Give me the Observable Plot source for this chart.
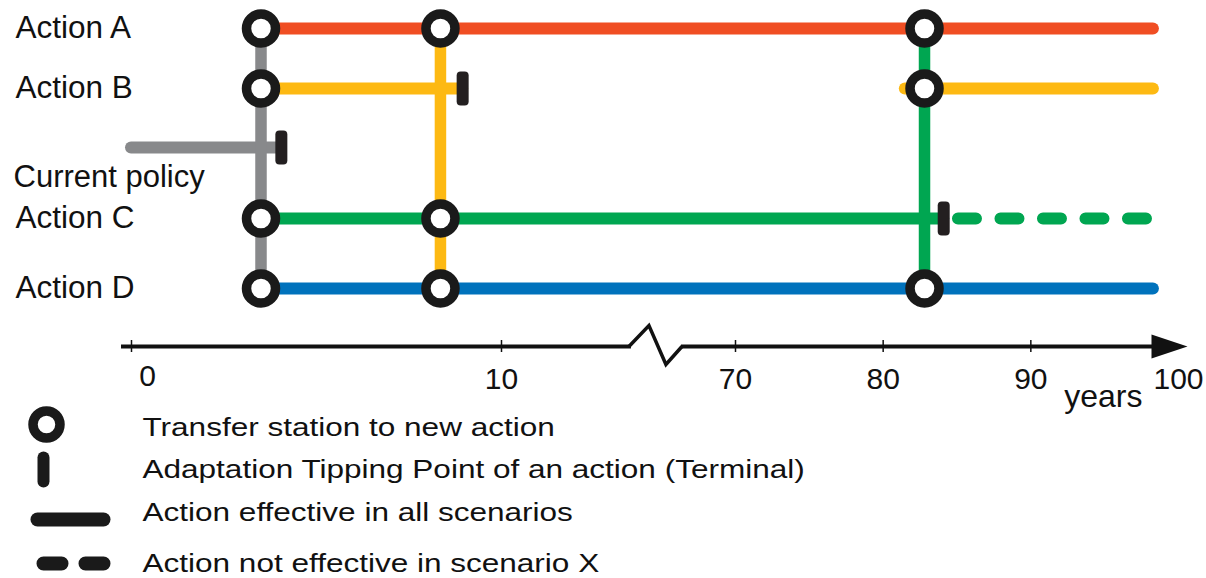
<!DOCTYPE html>
<html><head><meta charset="utf-8">
<script src="https://cdn.jsdelivr.net/npm/d3@7"></script>
<script src="https://cdn.jsdelivr.net/npm/@observablehq/plot@0.6"></script>
<style>
html,body{margin:0;padding:0;background:#fff;}
#chart svg{display:block;}
</style></head><body><div id="chart"></div>
<script>
// ---- data ----
const actions = ["Action A", "Action B", "Current policy", "Action C", "Action D"];
// horizontal route segments (years)
const segAction = ["Current policy", "Action A", "Action B", "Action B", "Action C", "Action C", "Action D"];
const segFrom   = [0,   3.5,  3.5,  81.5, 3.5,  85.1, 3.5];
const segTo     = [4.0, 98.3, 8.95, 98.3, 84.1, 97.85, 98.3];
const segDashed = [false, false, false, false, false, true, false];
// transfers (vertical connectors): year and the action whose colour they carry
const transferYear = [3.5, 8.35, 82.8];
const transferFrom = ["Current policy", "Action B", "Action C"];
// transfer stations
const stationYear   = [3.5, 3.5, 3.5, 3.5, 8.35, 8.35, 8.35, 82.8, 82.8, 82.8];
const stationAction = ["Action A", "Action B", "Action C", "Action D", "Action A", "Action C", "Action D", "Action A", "Action B", "Action D"];
// adaptation tipping points
const tipYear   = [4.05, 8.95, 84.1];
const tipAction = ["Current policy", "Action B", "Action C"];
// axis
const tickValues = [0, 10, 70, 80, 90];
const tickLabels = [10, 70, 80, 90, 100];
const zeroLabel = 0;
const axisBreak = 49.6;
const axisLabel = "years";
// legend
const legendLabels = [
  "Transfer station to new action",
  "Adaptation Tipping Point of an action (Terminal)",
  "Action effective in all scenarios",
  "Action not effective in scenario X"
];

// ---- tables ----
const segments = segAction.map((a, i) => ({action: a, from: segFrom[i], to: segTo[i], dashed: segDashed[i]}));
const transfers = transferYear.map((y, i) => ({year: y, from: transferFrom[i]}));
const stations = stationYear.map((y, i) => ({year: y, action: stationAction[i]}));
const tips = tipYear.map((y, i) => ({year: y, action: tipAction[i]}));
const row = a => actions.indexOf(a);
const AXIS_ROW = 5;
const legend = legendLabels.map((t, i) => ({label: t, row: 6 + i}));

// ---- custom symbols ----
function stadiumH(ctx, x0, x1, cy, h) {
  const r = h / 2;
  ctx.moveTo(x0 + r, cy - r); ctx.lineTo(x1 - r, cy - r);
  ctx.arc(x1 - r, cy, r, -Math.PI / 2, Math.PI / 2);
  ctx.lineTo(x0 + r, cy + r);
  ctx.arc(x0 + r, cy, r, Math.PI / 2, 3 * Math.PI / 2);
  ctx.closePath();
}
function roundRect(ctx, x0, y0, x1, y1, r) {
  ctx.moveTo(x0 + r, y0); ctx.lineTo(x1 - r, y0);
  ctx.arcTo(x1, y0, x1, y0 + r, r); ctx.lineTo(x1, y1 - r);
  ctx.arcTo(x1, y1, x1 - r, y1, r); ctx.lineTo(x0 + r, y1);
  ctx.arcTo(x0, y1, x0, y1 - r, r); ctx.lineTo(x0, y0 + r);
  ctx.arcTo(x0, y0, x0 + r, y0, r); ctx.closePath();
}
const tipSymbol = {draw(ctx) { roundRect(ctx, -6, -17, 6, 17, 4); }};
const legendTipSymbol = {draw(ctx) { roundRect(ctx, -6, -18, 6, 18, 6); }};
const legendSolidSymbol = {draw(ctx) { stadiumH(ctx, -40, 40, 7, 14); }};
const legendDashSymbol = {draw(ctx) { stadiumH(ctx, -37, -5, 0, 14); stadiumH(ctx, 5, 37, 0, 14); }};
const arrowSymbol = {draw(ctx) { ctx.moveTo(-27, -12); ctx.lineTo(9, 0); ctx.lineTo(-27, 12); ctx.closePath(); }};
const gapSymbol = {draw(ctx) { ctx.rect(-25, -4, 50, 8); }};
const zigSymbol = {draw(ctx) { ctx.moveTo(-27, 0); ctx.lineTo(-7, -21); ctx.lineTo(10, 18); ctx.lineTo(26, 0); }};

const font = "Liberation Sans, Arial, Helvetica, sans-serif";
const LINE_W = 12;

const chart = Plot.plot({
  width: 1206,
  height: 578,
  margin: 0,
  style: {fontFamily: font, background: "white", overflow: "visible"},
  x: {type: "linear", domain: [0, 10, 70, 100], range: [131, 501, 735, 1178], axis: null},
  y: {type: "linear", domain: [0, 1, 2, 3, 4, 5, 6, 7, 8, 9],
      range: [28, 88, 147, 218, 288, 346, 427, 469, 512, 563], axis: null},
  color: {domain: actions, range: ["#F04E23", "#FDB913", "#88898B", "#00A651", "#0072BC"]},
  marks: [
    // horizontal routes
    Plot.ruleY(segments.filter(d => !d.dashed), {
      y: d => row(d.action), x1: "from", x2: "to", stroke: "action",
      strokeWidth: LINE_W, strokeLinecap: "round"
    }),
    Plot.ruleY(segments.filter(d => d.dashed), {
      y: d => row(d.action), x1: "from", x2: "to", stroke: "action",
      strokeWidth: LINE_W, strokeLinecap: "round", strokeDasharray: "18,24.5"
    }),
    // transfers
    Plot.ruleX(transfers, {x: "year", y1: 0, y2: 4, stroke: "from", strokeWidth: 11.5}),
    // tipping points
    Plot.dot(tips, {x: "year", y: d => row(d.action), symbol: tipSymbol, fill: "#231f20", r: 5}),
    // stations
    Plot.dot(stations, {x: "year", y: d => row(d.action), r: 14.5, fill: "white", stroke: "#1a1a1a", strokeWidth: 9.5}),
    // action labels
    Plot.text(actions.filter(a => a !== "Current policy"), {
      y: a => row(a), text: d => d, frameAnchor: "left", dx: 15, dy: -1, textAnchor: "start",
      fontSize: 31.5, fill: "#111"
    }),
    Plot.text(["Current policy"], {
      y: a => row(a), text: d => d, frameAnchor: "left", dx: 13, dy: 30, textAnchor: "start",
      fontSize: 31, fill: "#111"
    }),
    // time axis
    Plot.ruleY([AXIS_ROW], {x1: -0.27, x2: 99, stroke: "#111", strokeWidth: 4}),
    Plot.dot([axisBreak], {x: d => d, y: AXIS_ROW, symbol: gapSymbol, fill: "white", r: 5}),
    Plot.dot([axisBreak], {x: d => d, y: AXIS_ROW, symbol: zigSymbol, fill: "none", stroke: "#111", strokeWidth: 3.5, strokeLinejoin: "miter", r: 5}),
    Plot.dot([100], {x: d => d, y: AXIS_ROW, symbol: arrowSymbol, fill: "#111", r: 5}),
    Plot.ruleX(tickValues, {x: d => d, y1: AXIS_ROW, y2: AXIS_ROW, insetTop: -6, insetBottom: -6, stroke: "#111", strokeWidth: 1.5}),
    Plot.text(tickLabels, {x: d => d, y: AXIS_ROW, text: d => String(d), dy: 33, fontSize: 30, fill: "#111"}),
    Plot.text([zeroLabel], {x: d => d, y: AXIS_ROW, text: d => String(d), dy: 30, dx: 16, fontSize: 30, fill: "#111"}),
    Plot.text([axisLabel], {x: 100, y: AXIS_ROW, text: d => d, dy: 50, dx: -36, textAnchor: "end", fontSize: 32, fill: "#111"}),
    // legend
    Plot.dot(legend.slice(0, 1), {y: "row", frameAnchor: "left", dx: 46, dy: -3, r: 13.5, fill: "white", stroke: "#1a1a1a", strokeWidth: 9.5}),
    Plot.dot(legend.slice(1, 2), {y: "row", frameAnchor: "left", dx: 43, symbol: legendTipSymbol, fill: "#1a1a1a", r: 5}),
    Plot.dot(legend.slice(2, 3), {y: "row", frameAnchor: "left", dx: 70, symbol: legendSolidSymbol, fill: "#1a1a1a", r: 5}),
    Plot.dot(legend.slice(3, 4), {y: "row", frameAnchor: "left", dx: 73, symbol: legendDashSymbol, fill: "#1a1a1a", r: 5}),
    Plot.text(legend, {y: "row", text: "label", frameAnchor: "left", dx: 142, textAnchor: "start", fontSize: 26.5, fill: "#111"})
  ]
});
document.getElementById("chart").append(chart);

// legend text in the reference is horizontally wider than the plain font
const STRETCH = 1.19;
d3.select(chart).selectAll("text")
  .filter(function() { return legendLabels.includes(this.textContent); })
  .each(function() {
    const x = +(this.getAttribute("x") || 0);
    const t = this.getAttribute("transform") || "";
    this.setAttribute("transform", `${t} translate(${x},0) scale(${STRETCH},1) translate(${-x},0)`);
  });
</script>
</body></html>
